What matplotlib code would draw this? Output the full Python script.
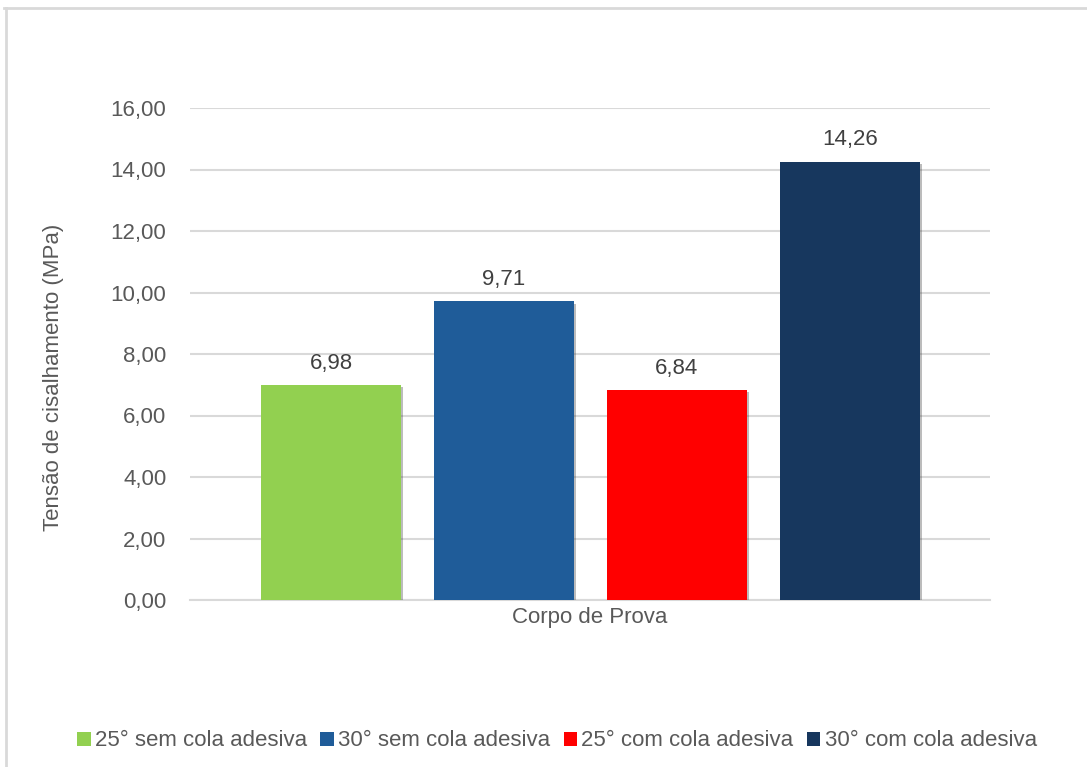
import numpy as np
import matplotlib.pyplot as plt
import matplotlib.patheffects as pe
from matplotlib.patches import Patch
from matplotlib.lines import Line2D

plt.rcParams['font.family'] = ['Liberation Sans', 'DejaVu Sans']

series = ['25° sem cola adesiva', '30° sem cola adesiva',
          '25° com cola adesiva', '30° com cola adesiva']
values = [6.98, 9.71, 6.84, 14.26]
colors = ['#92d050', '#1f5c99', '#ff0000', '#17375e']
category = 'Corpo de Prova'

txt = '#595959'
grid = '#d9d9d9'
fs = 16

fig = plt.figure(figsize=(10.87, 7.67), dpi=100)
ax = fig.add_axes([190 / 1087, 1 - 600 / 767, 800 / 1087, 492 / 767])

x = np.arange(len(values))
shadow = [pe.SimplePatchShadow(offset=(1.5, -1.5), alpha=0.35, shadow_rgbFace='#404040'), pe.Normal()]
bars = ax.bar(x, values, width=0.81, color=colors, zorder=3, path_effects=shadow)

for b, v in zip(bars, values):
    ax.annotate(f'{v:.2f}'.replace('.', ','), (b.get_x() + b.get_width() / 2, v),
                xytext=(0, 8), textcoords='offset points', ha='center', va='bottom',
                fontsize=fs, color='#404040')

ax.set_xlim(-0.815, 3.81)
ax.set_ylim(0, 16)
ax.set_yticks(np.arange(0, 17, 2))
ax.set_yticklabels([f'{t:.2f}'.replace('.', ',') for t in np.arange(0, 17, 2)])
ax.yaxis.grid(True, color=grid, lw=1.5, zorder=0)
ax.set_axisbelow(True)
ax.tick_params(axis='y', length=0, pad=17, labelsize=fs, labelcolor=txt)
ax.set_xticks([])
for s in ['top', 'right', 'left']:
    ax.spines[s].set_visible(False)
ax.spines['bottom'].set_color(grid)
ax.spines['bottom'].set_linewidth(1.5)

ax.set_ylabel('Tensão de cisalhamento (MPa)', fontsize=fs, color=txt)
ax.yaxis.set_label_coords(-0.157, 0.453)
ax.set_xlabel(category, fontsize=fs, color=txt, labelpad=5)

handles = [Patch(facecolor=c, edgecolor='none') for c in colors]
fig.legend(handles, series, loc='center', bbox_to_anchor=(557 / 1087, 1 - 741 / 767),
           ncol=4, frameon=False, fontsize=fs, labelcolor=txt,
           handlelength=0.6, handleheight=0.6, handletextpad=0.2, columnspacing=0.6)

# chart area frame (top and left edges)
fig.add_artist(Line2D([4 / 1087, 1], [1 - 8 / 767, 1 - 8 / 767], color='#d9d9d9', lw=2))
fig.add_artist(Line2D([6 / 1087, 6 / 1087], [0, 1 - 8 / 767], color='#d9d9d9', lw=2))

fig.savefig('out.png', dpi=100, facecolor='white')
